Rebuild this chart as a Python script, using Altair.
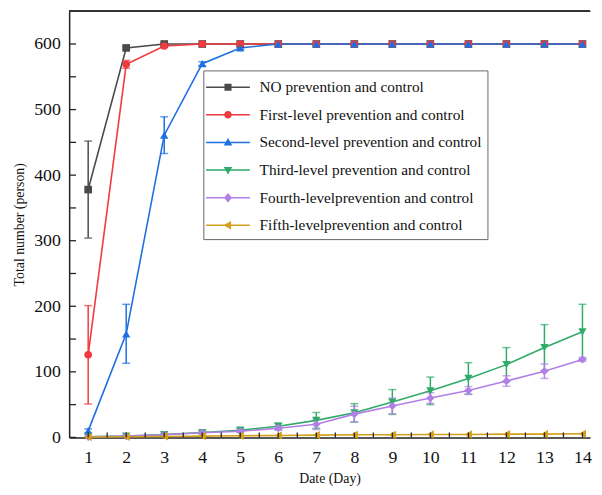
import altair as alt
import pandas as pd

days = list(range(1, 15))
series = [
    "NO prevention and control",
    "First-level prevention and control",
    "Second-level prevention and control",
    "Third-level prevention and control",
    "Fourth-levelprevention and control",
    "Fifth-levelprevention and control",
]
colors = ["#4a4a4a", "#f03a3e", "#1f6fe0", "#2eab68", "#b27fe6", "#d4a018"]
shapes = ["square", "circle", "triangle-up", "triangle-down", "diamond", "triangle-left"]

no_mean = [378, 594, 600, 600, 600, 600, 600, 600, 600, 600, 600, 600, 600, 600]
no_err = [74, 2, 1, 0, 0, 0, 0, 0, 0, 0, 0, 0, 0, 0]
first_mean = [126, 569, 597, 600, 600, 600, 600, 600, 600, 600, 600, 600, 600, 600]
first_err = [75, 6, 2, 0, 0, 0, 0, 0, 0, 0, 0, 0, 0, 0]
second_mean = [10, 158, 461, 570, 594, 600, 600, 600, 600, 600, 600, 600, 600, 600]
second_err = [3, 45, 28, 3, 2, 0, 0, 0, 0, 0, 0, 0, 0, 0]
third_mean = [1, 2, 4.5, 7.5, 11, 17, 26, 37.5, 54, 71, 90, 111, 137, 161]
third_err = [0.5, 1, 1.5, 2, 3, 5, 12, 14, 19, 21, 24, 26, 35, 42]
fourth_mean = [1, 2, 4, 7, 9.5, 14, 20, 35.5, 48, 60, 71.5, 86, 101, 119]
fourth_err = [0.5, 1, 1, 1.5, 2, 3, 8, 12, 12, 8, 6, 8, 11, 3]
fifth_mean = [0.5, 1, 1.5, 2, 2.5, 3, 3.5, 4, 4, 4.5, 4.5, 5, 5, 5.5]
fifth_err = [0.2, 0.3, 0.3, 0.4, 0.4, 0.5, 0.5, 0.5, 0.5, 0.5, 0.5, 0.5, 0.5, 0.5]

y_ticks = list(range(0, 651, 50))
x_minor = [d / 2 for d in range(2, 29)]

means = [no_mean, first_mean, second_mean, third_mean, fourth_mean, fifth_mean]
errs = [no_err, first_err, second_err, third_err, fourth_err, fifth_err]

rows = []
for s, m, e in zip(series, means, errs):
    for d, mv, ev in zip(days, m, e):
        rows.append({"day": d, "series": s, "mean": mv, "lo": mv - ev, "hi": min(mv + ev, 649), "err": ev})
df = pd.DataFrame(rows)

W, H = 528, 432
FONT = "Liberation Serif"

xs = alt.Scale(domain=[0.5, 14.2], nice=False, zero=False)
ysc = alt.Scale(domain=[0, 650], nice=False)
cs = alt.Scale(domain=series, range=colors)

x_enc = alt.X("day:Q", scale=xs, title="Date (Day)",
              axis=alt.Axis(values=days, tickSize=0, grid=False, labelFontSize=18,
                            labelPadding=11, titlePadding=6, titleFontSize=14,
                            titleFontWeight="normal", domainColor="#222", domainWidth=1.5,
                            labelFont=FONT, titleFont=FONT, labelColor="#111", titleColor="#111"))
y_enc = alt.Y("mean:Q", scale=ysc, title="Total number (person)",
              axis=alt.Axis(values=list(range(0, 601, 100)), tickSize=0, grid=False,
                            labelFontSize=18, labelPadding=9, titlePadding=7, titleFontSize=14,
                            titleFontWeight="normal", domainColor="#222", domainWidth=1.5,
                            labelFont=FONT, titleFont=FONT, labelColor="#111", titleColor="#111"))

# legend symbols: line segment with marker (custom paths)
bar = "M-1.85,-0.06L1.85,-0.06L1.85,0.06L-1.85,0.06Z"
m = 0.3
leg_paths = [
    bar + f"M-{m},-{m}L{m},-{m}L{m},{m}L-{m},{m}Z",
    bar + f"M{m+0.02},0A{m+0.02},{m+0.02} 0 1,1 -{m+0.02},0A{m+0.02},{m+0.02} 0 1,1 {m+0.02},0Z",
    bar + "M0,-0.38L0.36,0.26L-0.36,0.26Z",
    bar + "M-0.36,-0.26L0.36,-0.26L0,0.38Z",
    bar + "M0,-0.4L0.34,0L0,0.4L-0.34,0Z",
    bar + "M-0.38,0L0.26,-0.36L0.26,0.36Z",
]
legend = alt.Legend(title=None, orient="none", legendX=136, legendY=60, symbolSize=576,
                    symbolOffset=8, labelOffset=20, padding=5, rowPadding=7,
                    labelFont=FONT, labelFontSize=15.5, labelColor="#111",
                    strokeColor="#666", fillColor="white", symbolStrokeWidth=0,
                    symbolOpacity=1, labelLimit=400)
color_l = alt.Color("series:N", scale=cs, legend=legend)

base = alt.Chart(df)

lines = base.mark_line(strokeWidth=1.6).encode(x=x_enc, y=y_enc, color=color_l, detail="series:N")

err_df = base.transform_filter("datum.err >= 1")
err_rule = err_df.mark_rule(strokeWidth=1.5).encode(
    x=alt.X("day:Q", scale=xs), y=alt.Y("lo:Q", scale=ysc), y2="hi:Q", color=color_l)
cap_lo = err_df.mark_tick(orient="horizontal", size=8, thickness=1.5).encode(
    x=alt.X("day:Q", scale=xs), y=alt.Y("lo:Q", scale=ysc), color=color_l)
cap_hi = err_df.mark_tick(orient="horizontal", size=8, thickness=1.5).encode(
    x=alt.X("day:Q", scale=xs), y=alt.Y("hi:Q", scale=ysc), color=color_l)

point_layers = []
for s, sh in zip(series, shapes):
    sz = 60 if sh in ("square", "circle") else 70
    point_layers.append(
        base.transform_filter(alt.datum.series == s).mark_point(filled=True, shape=sh, size=sz, opacity=1).encode(
            x=alt.X("day:Q", scale=xs), y=alt.Y("mean:Q", scale=ysc), color=color_l)
    )

leg_layer = base.transform_filter("datum.day > 100").mark_point(filled=True, size=576, opacity=1).encode(
    x=alt.X("day:Q", scale=xs), y=alt.Y("mean:Q", scale=ysc),
    color=color_l,
    shape=alt.Shape("series:N", scale=alt.Scale(domain=series, range=leg_paths), legend=legend),
)

ytick_df = pd.DataFrame({"v": y_ticks[:-1]})
yticks = alt.Chart(ytick_df).mark_rule(color="#222", strokeWidth=1.3).encode(
    y=alt.Y("v:Q", scale=ysc), x=alt.value(0), x2=alt.value(7))
xtick_df = pd.DataFrame({"d": x_minor})
xticks = alt.Chart(xtick_df).mark_rule(color="#222", strokeWidth=1.3).encode(
    x=alt.X("d:Q", scale=xs), y=alt.value(H - 5), y2=alt.value(H))
top_line = alt.Chart(ytick_df).mark_rule(color="#333", strokeWidth=1.5).encode(
    y=alt.value(0), x=alt.value(0), x2=alt.value(W))

chart = alt.layer(
    leg_layer, lines, err_rule, cap_lo, cap_hi, *point_layers, yticks, xticks, top_line
).properties(
    width=W, height=H,
    autosize=alt.AutoSizeParams(type="none"),
    padding={"left": 62, "top": 0, "right": 4, "bottom": 47},
).configure(background="white", font=FONT).configure_view(stroke=None).configure_legend(
    labelFont=FONT).configure_axis(labelFont=FONT, titleFont=FONT)

chart.save("out.html", embed_options={"renderer": "svg", "actions": False})
